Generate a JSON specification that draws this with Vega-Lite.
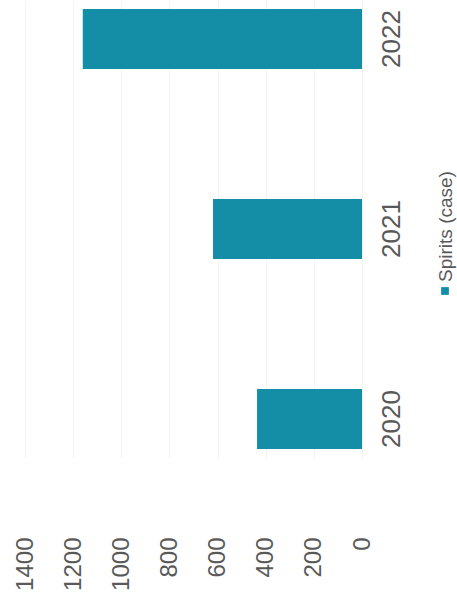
{
  "$schema": "https://vega.github.io/schema/vega-lite/v6.json",
  "autosize": {"type": "none"},
  "width": 337,
  "height": 458,
  "padding": {"left": 25, "top": 0, "right": 95, "bottom": 151},
  "background": "white",
  "config": {
    "view": {"stroke": null},
    "font": "Liberation Sans",
    "axis": {"labelColor": "#595959", "labelFont": "Liberation Sans", "titleColor": "#595959", "titleFont": "Liberation Sans", "titleFontWeight": "normal"}
  },
  "data": {
    "values": [
      {"year": "2020", "value": 436, "series": "Spirits (case)"},
      {"year": "2021", "value": 619, "series": "Spirits (case)"},
      {"year": "2022", "value": 1160, "series": "Spirits (case)"}
    ]
  },
  "mark": {"type": "bar"},
  "encoding": {
    "y": {
      "field": "year", "type": "nominal", "sort": "descending",
      "scale": {"paddingInner": 0.684, "paddingOuter": 0.047},
      "axis": {
        "orient": "right", "labelAngle": -90, "labelAlign": "center", "labelBaseline": "top",
        "labelFontSize": 26, "labelPadding": 16, "domain": false, "ticks": false,
        "title": "Spirits (case)", "titleAngle": -90, "titleFontSize": 19, "titleX": 83, "titleY": 226,
        "titleAlign": "center", "titleBaseline": "middle"
      }
    },
    "x": {
      "field": "value", "type": "quantitative",
      "scale": {"domain": [0, 1400], "reverse": true, "nice": false},
      "axis": {
        "orient": "bottom", "values": [0, 200, 400, 600, 800, 1000, 1200, 1400], "format": "d",
        "labelAngle": -90, "labelFontSize": 24, "labelPadding": 79,
        "domain": false, "ticks": false, "grid": true, "gridColor": "#f4f4f4", "title": null
      }
    },
    "color": {
      "field": "series", "type": "nominal",
      "scale": {"range": ["#138ea6"]},
      "legend": {
        "orient": "none", "legendX": 415, "legendY": 286,
        "symbolType": "square", "symbolSize": 60, "labelExpr": "''", "title": null
      }
    }
  }
}
